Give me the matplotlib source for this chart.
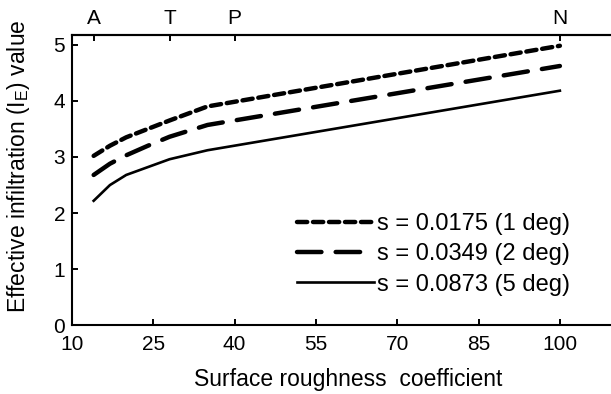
import matplotlib
matplotlib.use("Agg")
import matplotlib.pyplot as plt

plt.rcParams['font.family'] = ['Liberation Sans', 'DejaVu Sans']
plt.rcParams['mathtext.fontset'] = 'custom'
plt.rcParams['mathtext.rm'] = 'Liberation Sans'

roughness = [14, 17, 20, 24, 28, 35, 100]
ie_1deg = [3.02, 3.20, 3.35, 3.50, 3.65, 3.90, 4.98]
ie_2deg = [2.68, 2.88, 3.03, 3.20, 3.36, 3.57, 4.62]
ie_5deg = [2.22, 2.50, 2.68, 2.82, 2.96, 3.12, 4.18]
labels = ["s = 0.0175 (1 deg)", "s = 0.0349 (2 deg)", "s = 0.0873 (5 deg)"]
xticks = [10, 25, 40, 55, 70, 85, 100]
yticks = [0, 1, 2, 3, 4, 5]
top_ticks = [14, 28, 40, 100]
top_labels = ["A", "T", "P", "N"]

fig = plt.figure(figsize=(6.11, 3.94), dpi=100)
ax = fig.add_axes([0.1178, 0.1739, 0.905, 0.737])

fs = 15
l1, = ax.plot(roughness, ie_1deg, color='black', lw=3.2, dashes=(2.3, 1.3),
              dash_capstyle='round', label=labels[0])
l2, = ax.plot(roughness, ie_2deg, color='black', lw=3.2, dashes=(5.5, 3.2),
              dash_capstyle='round', label=labels[1])
l3, = ax.plot(roughness, ie_5deg, color='black', lw=1.9, label=labels[2])

ax.set_xlim(10, 112)
ax.set_ylim(0, 5.17)
ax.set_xticks(xticks)
ax.set_yticks(yticks)
ax.tick_params(axis='x', direction='in', length=4, width=1.4, labelsize=fs, pad=7)
ax.tick_params(axis='y', direction='in', length=4, width=1.4, labelsize=fs, pad=5)
for s in ['left', 'bottom', 'top']:
    ax.spines[s].set_linewidth(1.5)
ax.spines['right'].set_visible(False)

sec = ax.secondary_xaxis('top')
sec.set_xticks(top_ticks)
sec.set_xticklabels(top_labels)
sec.tick_params(direction='in', length=4, width=1.4, labelsize=fs, pad=5)
sec.spines['top'].set_linewidth(1.5)

ax.set_xlabel("Surface roughness  coefficient", fontsize=16.5, labelpad=10)
ax.set_ylabel("Effective infiltration (I$_\\mathregular{E}$) value", fontsize=16.5)
ax.yaxis.set_label_coords(-0.072, 0.55)

leg = ax.legend(handles=[l1, l2, l3], loc='upper left', bbox_to_anchor=(297/611, 1 - 213/394),
                bbox_transform=fig.transFigure, frameon=False, fontsize=17,
                handlelength=3.25, handletextpad=0.12, labelspacing=0.35, borderpad=0,
                borderaxespad=0)

fig.savefig("out.png", dpi=100)
